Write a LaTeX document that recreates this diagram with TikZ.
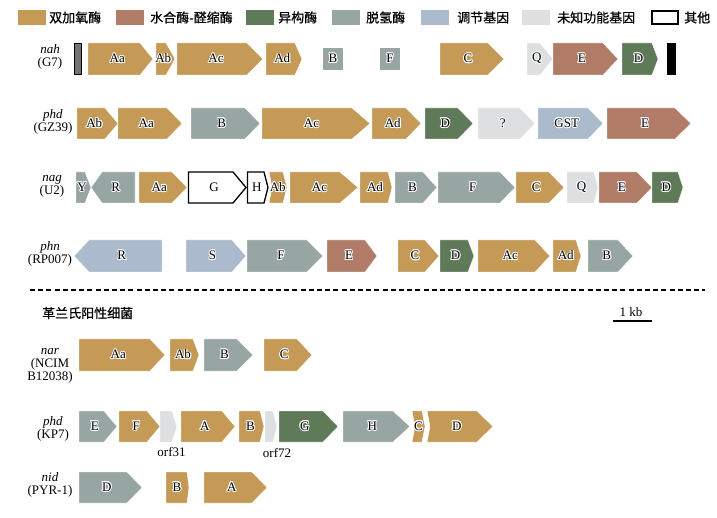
\documentclass[tikz,border=0pt]{standalone}
\usepackage{fontspec}
\setmainfont{Liberation Serif}
\newfontfamily\cjk{Noto Sans CJK SC}[FakeBold=0.7]
\usepackage{contour}
\contourlength{0.9pt}
\definecolor{cdiox}{RGB}{196,154,86}
\definecolor{chyd}{RGB}{176,124,104}
\definecolor{ciso}{RGB}{95,122,88}
\definecolor{cdeh}{RGB}{152,166,163}
\definecolor{creg}{RGB}{171,186,204}
\definecolor{cunk}{RGB}{221,223,225}
\tikzset{
  genebody/.style={draw=white,line width=0.4pt},
  dx/.style={fill=cdiox},
  hy/.style={fill=chyd},
  iso/.style={fill=ciso},
  deh/.style={fill=cdeh},
  reg/.style={fill=creg},
  unk/.style={fill=cunk},
  oth/.style={fill=white,draw=black,line width=1.3pt},
  glabel/.style={inner sep=0pt,font=\fontsize{13}{13}\selectfont},
  strain/.style={inner sep=0pt,align=center,font=\fontsize{13}{13}\selectfont},
  legtxt/.style={inner sep=0pt,anchor=west,font=\cjk\fontsize{13}{13}\selectfont},
  swatch/.style={draw=none,minimum width=28pt,minimum height=15pt,inner sep=0pt},
}
\newcommand{\setrow}[3]{\def\yt{#1}\def\ym{#2}\def\yb{#3}}
% right-pointing gene: style, name, x1, xp, x2, label
\newcommand{\gR}[6]{%
  \path[genebody,#1] (#3,\yt) -- (#4,\yt) -- (#5,\ym) -- (#4,\yb) -- (#3,\yb) -- cycle;
  \node[glabel] (#2) at ({(#3+#4)/2+(#5-#4)/4},\ym) {\contour{white}{#6}};}
% right-pointing gene with notched left end: style, name, x1, notch depth, xp, x2, label
\newcommand{\gRn}[7]{%
  \path[genebody,#1] (#3,\yt) -- (#5,\yt) -- (#6,\ym) -- (#5,\yb) -- (#3,\yb) -- ({#3+#4},\ym) -- cycle;
  \node[glabel] (#2) at ({(#3+#4/2+#5)/2+(#6-#5)/4},\ym) {\contour{white}{#7}};}
% left-pointing gene: style, name, xtip, xb, x2, label
\newcommand{\gL}[6]{%
  \path[genebody,#1] (#3,\ym) -- (#4,\yt) -- (#5,\yt) -- (#5,\yb) -- (#4,\yb) -- cycle;
  \node[glabel] (#2) at ({(#4+#5)/2-(#4-#3)/4},\ym) {\contour{white}{#6}};}
\begin{document}
\begin{tikzpicture}[x=1pt,y=-1pt]
\useasboundingbox (0,0) rectangle (717,518);
% legend
\node[swatch,fill=cdiox] (s1) at (31.5,17.5) {};
\node[legtxt] (t1) at (49,17.5) {双加氧酶};
\node[swatch,fill=chyd] (s2) at (130,17.5) {};
\node[legtxt] (t2) at (150,17.5) {水合酶-醛缩酶};
\node[swatch,fill=ciso] (s3) at (259.5,17.5) {};
\node[legtxt] (t3) at (278,17.5) {异构酶};
\node[swatch,fill=cdeh] (s4) at (346,17.5) {};
\node[legtxt] (t4) at (366,17.5) {脱氢酶};
\node[swatch,fill=creg] (s5) at (435,17.5) {};
\node[legtxt] (t5) at (457,17.5) {调节基因};
\node[swatch,fill=cunk] (s6) at (536,17.5) {};
\node[legtxt] (t6) at (557,17.5) {未知功能基因};
\node[swatch,draw=black,line width=1.3pt,fill=white,minimum width=26pt,minimum height=13pt] (s7) at (665,17.5) {};
\node[legtxt] (t7) at (684,17.5) {其他};

% row 1: nah (G7)
\node[strain] (l1) at (50,57) {\textit{nah}\\(G7)};
\setrow{43}{59}{75}
\path[fill=black!55,draw=black,line width=1pt] (74.5,43.5) rectangle (81.5,74.5);
\gR{dx}{r1aa}{88}{140}{153}{Aa}
\gR{dx}{r1ab}{156}{166}{175}{Ab}
\gR{dx}{r1ac}{177}{247}{263}{Ac}
\gR{dx}{r1ad}{266}{295}{302}{Ad}
\path[deh] (323,48) rectangle (343,70);
\node[glabel] (r1b) at (333,59) {\contour{white}{B}};
\path[deh] (380,48) rectangle (400,70);
\node[glabel] (r1f) at (390,59) {\contour{white}{F}};
\gR{dx}{r1c}{440}{488}{504}{C}
\gR{unk}{r1q}{527}{540}{553}{Q}
\gR{hy}{r1e}{553}{603}{618}{E}
\gR{iso}{r1d}{622}{652}{658}{D}
\path[fill=black] (667,43) rectangle (676,75);

% row 2: phd (GZ39)
\node[strain] (l2) at (53,121.5) {\textit{phd}\\(GZ39)};
\setrow{108}{123.5}{139}
\gR{dx}{r2ab}{77}{105}{118}{Ab}
\gR{dx}{r2aa}{118}{167}{182}{Aa}
\gR{deh}{r2b}{191}{245}{260}{B}
\gR{dx}{r2ac}{262}{352}{370}{Ac}
\gR{dx}{r2ad}{372}{406}{421}{Ad}
\gR{iso}{r2d}{425}{458}{473}{D}
\gR{unk}{r2x}{478}{520}{535}{?}
\gR{reg}{r2gst}{538}{588}{603}{GST}
\gR{hy}{r2e}{607}{675}{691}{E}

% row 3: nag (U2)
\node[strain] (l3) at (52,186.5) {\textit{nag}\\(U2)};
\setrow{172}{187.5}{203}
\gR{deh}{r3y}{76}{85}{91}{Y}
\gL{deh}{r3r}{91}{102}{135}{R}
\gR{dx}{r3aa}{139}{172}{187}{Aa}
\gR{oth}{r3g}{188.5}{233}{246}{G}
\gR{oth}{r3h}{247.5}{264}{268}{H}
\gRn{dx}{r3ab}{269}{3}{283}{287}{Ab}
\gR{dx}{r3ac}{290}{340}{358}{Ac}
\gR{dx}{r3ad}{360}{388}{392}{Ad}
\gR{deh}{r3b}{395}{423}{437}{B}
\gR{deh}{r3f}{438}{500}{515}{F}
\gR{dx}{r3c}{516}{549}{564}{C}
\gR{unk}{r3q}{567}{594}{598}{Q}
\gR{hy}{r3e}{599}{637}{652}{E}
\gR{iso}{r3d}{652}{678}{683}{D}

% row 4: phn (RP007)
\node[strain] (l4) at (50,254) {\textit{phn}\\(RP007)};
\setrow{240}{256}{272}
\gL{reg}{r4r}{74}{89}{162}{R}
\gR{reg}{r4s}{186}{232}{246}{S}
\gR{deh}{r4f}{247}{307}{323}{F}
\gR{hy}{r4e}{327}{365}{377}{E}
\gR{dx}{r4c}{398}{425}{439}{C}
\gR{iso}{r4d}{440}{468}{474}{D}
\gR{dx}{r4ac}{478}{535}{550}{Ac}
\gR{dx}{r4ad}{553}{576}{581}{Ad}
\gR{deh}{r4b}{588}{618}{633}{B}

% separator
\coordinate (dl) at (30,290);
\coordinate (dr) at (705,290);
\draw[line width=1.6pt,dash pattern=on 5pt off 3.2pt] (dl) -- (dr);
\node[legtxt] (gp) at (42,313) {革兰氏阳性细菌};
\coordinate (sb1) at (613,321);
\coordinate (sb2) at (652,321);
\draw[line width=1.3pt] (sb1) -- (sb2);
\node[inner sep=0pt,font=\fontsize{13}{13}\selectfont] (kb) at (631,312) {1 kb};

% row 5: nar (NCIM B12038)
\node[strain] (l5) at (50,366) {\textit{nar}\\(NCIM\\B12038)};
\setrow{339}{355}{371}
\gR{dx}{r5aa}{79}{150}{165}{Aa}
\gR{dx}{r5ab}{170}{193}{199}{Ab}
\gR{deh}{r5b}{204}{237}{253}{B}
\gR{dx}{r5c}{264}{297}{312}{C}

% row 6: phd (KP7)
\node[strain] (l6) at (53,428.5) {\textit{phd}\\(KP7)};
\setrow{411}{426.5}{442}
\gR{deh}{r6e}{79}{104}{117}{E}
\gR{dx}{r6f}{119}{147}{160}{F}
\gR{unk}{r6o31}{160}{172}{177}{}
\gR{dx}{r6a}{181}{222}{235}{A}
\gR{dx}{r6b}{239}{260}{264}{B}
\gR{unk}{r6o72}{265}{273}{277}{}
\gR{iso}{r6g}{279}{323}{338}{G}
\gR{deh}{r6h}{343}{393}{410}{H}
\gRn{dx}{r6c}{412}{3}{422}{425}{C}
\gRn{dx}{r6d}{427}{3}{477}{493}{D}
\node[inner sep=0pt,font=\fontsize{13}{13}\selectfont] (o31) at (171.5,452) {orf31};
\node[inner sep=0pt,font=\fontsize{13}{13}\selectfont] (o72) at (277,453) {orf72};

% row 7: nid (PYR-1)
\node[strain] (l7) at (50,484.5) {\textit{nid}\\(PYR-1)};
\setrow{472}{487.5}{503}
\gR{deh}{r7d}{79}{127}{142}{D}
\gR{dx}{r7b}{166}{187}{189}{B}
\gR{dx}{r7a}{204}{252}{267}{A}
\end{tikzpicture}
\end{document}
